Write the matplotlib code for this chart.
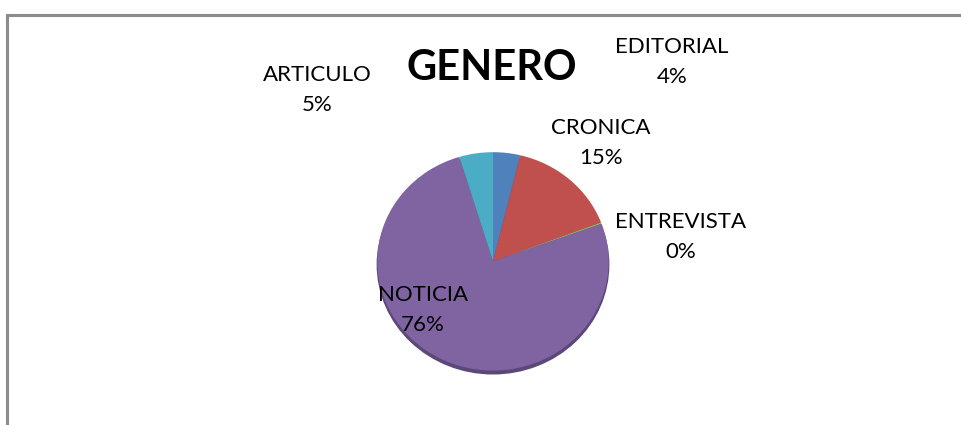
import matplotlib.pyplot as plt
from matplotlib.patches import Ellipse

categories = ['EDITORIAL', 'CRONICA', 'ENTREVISTA', 'NOTICIA', 'ARTICULO']
shares = [3.8, 15.4, 0.2, 75.9, 4.7]
pct_labels = ['4%', '15%', '0%', '76%', '5%']
colors = ['#4F81BD', '#C0504D', '#9BBB59', '#8064A2', '#4BACC6']

# label positions in figure pixels (x, y from top)
label_pos = [(672, 62), (601, 143), (681, 237), (423, 310), (317, 90)]

plt.rcParams['font.family'] = ['Lato', 'DejaVu Sans']

W, H = 961, 425
fig = plt.figure(figsize=(W / 100, H / 100), dpi=100)

# frame lines (left and top only)
fig.add_artist(plt.Line2D([6.5 / W, 6.5 / W], [0, 1 - 14.5 / H], color='#8c8c8c', lw=2.2))
fig.add_artist(plt.Line2D([6.5 / W, 1], [1 - 14.5 / H, 1 - 14.5 / H], color='#8c8c8c', lw=2.2))

# pie axes, squashed slightly for the tilted look
left, right, top, bottom = 375, 611, 150, 376
ax = fig.add_axes([left / W, 1 - bottom / H, (right - left) / W, (bottom - top) / H])
ax.add_patch(Ellipse((0, -0.03), 2, 2, color='#5b4878', zorder=0))
ax.pie(shares, colors=colors, startangle=90, counterclock=False,
       wedgeprops=dict(linewidth=0))
ax.set_aspect('auto')
ax.set_xlim(-1.02, 1.02)
ax.set_ylim(-1.05, 1.02)
ax.axis('off')

fig.text(492 / W, 1 - 68 / H, 'GENERO', fontsize=30, fontweight='bold',
         ha='center', va='center')

for name, pct, (x, y) in zip(categories, pct_labels, label_pos):
    fig.text(x / W, 1 - y / H, name + '\n' + pct, fontsize=16, ha='center',
             va='center', linespacing=1.62)

fig.savefig('out.png', dpi=100)
